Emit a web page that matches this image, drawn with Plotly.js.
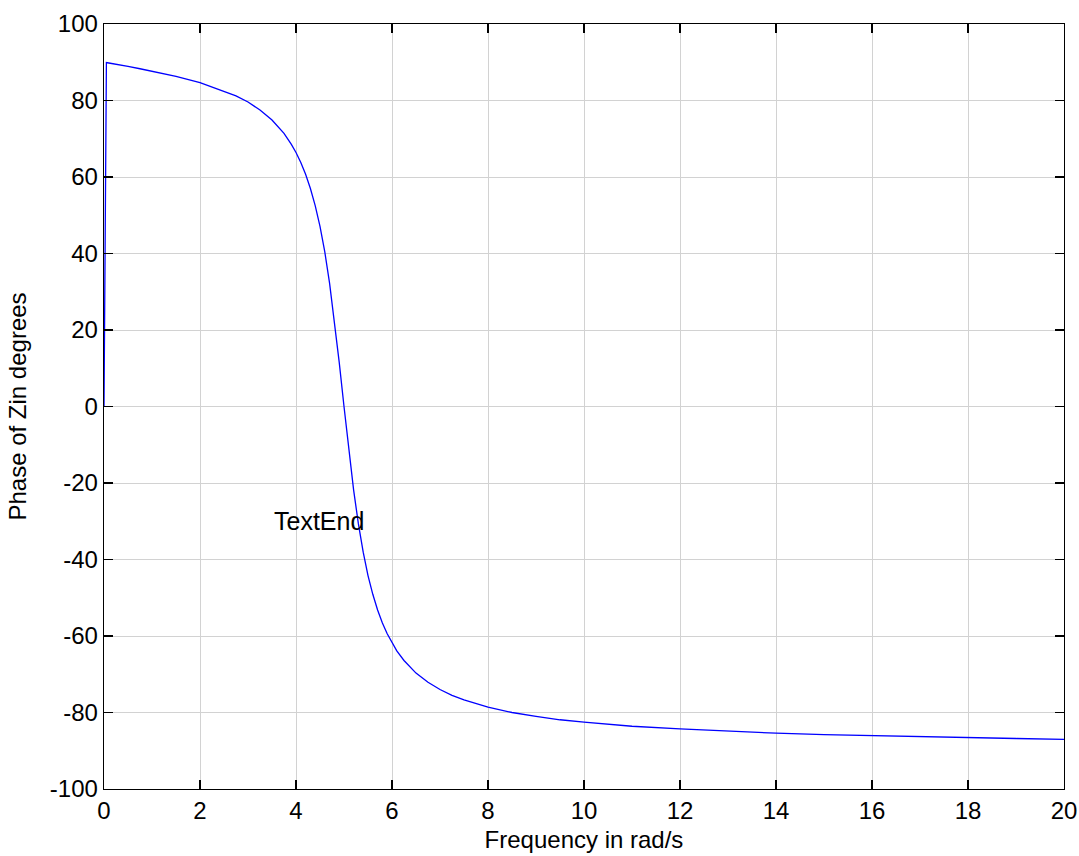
<!DOCTYPE html>
<html>
<head>
<meta charset="utf-8">
<script src="https://cdn.plot.ly/plotly-3.0.1.min.js"></script>
<style>html,body{margin:0;padding:0;background:#fff;}#chart{width:1079px;height:856px;}</style>
</head>
<body>
<div id="chart"></div>
<script>
// Frequency in rad/s
const freq = [0, 0.05, 0.1, 0.25, 0.5, 0.75, 1, 1.5, 2, 2.5, 2.75, 3, 3.25, 3.5, 3.75, 3.9, 4, 4.1, 4.2, 4.3, 4.4, 4.5, 4.6, 4.7, 4.8, 4.9, 5.0,
              5.1, 5.2, 5.3, 5.4, 5.5, 5.6, 5.7, 5.8, 5.9, 6, 6.1, 6.25, 6.5, 6.75, 7, 7.25, 7.5, 8, 8.5, 9, 9.5, 10,
              11, 12, 13, 14, 15, 16, 17, 18, 19, 20];
// Phase of Zin in degrees
const phase = [0, 89.9, 89.8, 89.4, 88.9, 88.3, 87.7, 86.3, 84.7, 82.5, 81.2, 79.6, 77.5, 74.9, 71.4, 68.6, 66.4, 63.8, 60.7, 57.0, 52.5, 47.1, 40.4, 32.2, 22.6, 11.6, 0,
               -11.4, -21.8, -30.7, -38.1, -44.2, -49.1, -53.2, -56.6, -59.4, -61.8, -63.9, -66.4, -69.7, -72.1, -74.0, -75.5, -76.7, -78.6, -80.0, -81.0, -81.9, -82.5,
               -83.6, -84.3, -84.9, -85.4, -85.8, -86.1, -86.4, -86.6, -86.8, -87.0];

// Tick values and labels (hyphen-minus as in the original)
const xTickVals = [0, 2, 4, 6, 8, 10, 12, 14, 16, 18, 20];
const xTickLabels = ['0', '2', '4', '6', '8', '10', '12', '14', '16', '18', '20'];
const yTickVals = [-100, -80, -60, -40, -20, 0, 20, 40, 60, 80, 100];
const yTickLabels = ['-100', '-80', '-60', '-40', '-20', '0', '20', '40', '60', '80', '100'];

const xTitle = 'Frequency in rad/s';
const yTitle = 'Phase of Zin degrees';
const noteText = 'TextEnd';
const noteX = 3.5;
const noteY = -30;

const FONT = 'Arial, "Liberation Sans", Helvetica, sans-serif';

const trace = {
  x: freq, y: phase, type: 'scatter', mode: 'lines',
  line: {color: '#0000ff', width: 1.3},
  hoverinfo: 'skip'
};

const axisCommon = {
  showgrid: true, gridcolor: '#d2d2d2', gridwidth: 1,
  showline: true, linecolor: '#000', linewidth: 1.3, mirror: 'allticks',
  ticks: 'inside', ticklen: 9, tickwidth: 1.3, tickcolor: '#000',
  zeroline: false,
  tickmode: 'array',
  tickfont: {family: FONT, size: 24, color: '#000'}
};

const layout = {
  width: 1079, height: 856,
  margin: {l: 104, r: 15, t: 24, b: 67},
  paper_bgcolor: '#fff', plot_bgcolor: '#fff',
  showlegend: false,
  font: {family: FONT, color: '#000'},
  xaxis: Object.assign({}, axisCommon, {
    range: [0, 20], tickvals: xTickVals, ticktext: xTickLabels,
    title: {text: xTitle, font: {family: FONT, size: 24, color: '#000'}, standoff: 8}
  }),
  yaxis: Object.assign({}, axisCommon, {
    range: [-100, 100], tickvals: yTickVals, ticktext: yTickLabels,
    title: {text: yTitle, font: {family: FONT, size: 24, color: '#000'}, standoff: 16}
  }),
  annotations: [{
    x: noteX, y: noteY, xref: 'x', yref: 'y', text: noteText, showarrow: false,
    xanchor: 'left', yanchor: 'middle',
    font: {family: FONT, size: 25, color: '#000'}
  }]
};

Plotly.newPlot('chart', [trace], layout, {staticPlot: true, displayModeBar: false});
</script>
</body>
</html>
